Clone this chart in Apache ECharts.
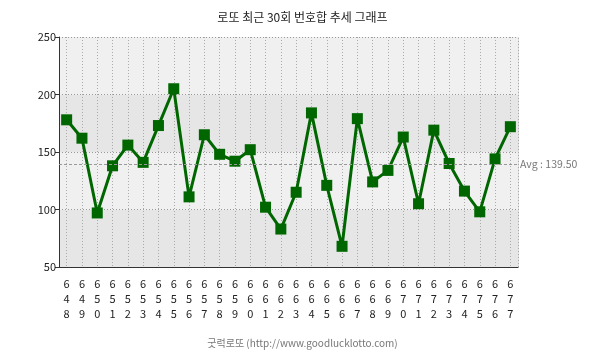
<!DOCTYPE html>
<html><head><meta charset="utf-8">
<script src="https://cdn.jsdelivr.net/npm/echarts@6/dist/echarts.min.js"></script>
<style>html,body{margin:0;padding:0;background:#fff}#c{width:605px;height:359px}</style>
</head><body><div id="c"></div>
<script>
const titleText = '로또 최근 30회 번호합 추세 그래프';
const footerText = '굿럭로또 (http://www.goodlucklotto.com)';
const rounds = ['648','649','650','651','652','653','654','655','656','657','658','659','660','661','662','663','664','665','666','667','668','669','670','671','672','673','674','675','676','677'];
const sums = [178,162,97,138,156,141,173,205,111,165,148,142,152,102,83,115,184,121,68,179,124,134,163,105,169,140,116,98,144,172];
const yTicks = [50,100,150,200,250];

const font = '"Noto Sans CJK KR", "DejaVu Sans", sans-serif';
const chart = echarts.init(document.getElementById('c'));
chart.setOption({
  animation: false,
  backgroundColor: '#fff',
  title: [
    {text: titleText, left: 'center', top: 6, textStyle: {fontFamily: font, fontSize: 12, fontWeight: 'normal', color: '#222'}},
    {text: footerText, left: 'center', top: 333, textStyle: {fontFamily: font, fontSize: 10, fontWeight: 'normal', color: '#777'}}
  ],
  grid: {left: 59, right: 87, top: 37, bottom: 92},
  xAxis: {
    type: 'category', data: rounds, boundaryGap: true,
    axisLine: {lineStyle: {color: '#333', width: 1}},
    axisTick: {alignWithLabel: true, length: 5, lineStyle: {color: '#333'}},
    axisLabel: {interval: 0, margin: 9, fontFamily: font, fontSize: 11, lineHeight: 15, color: '#222',
      formatter: v => v.split('').join('\n')},
    splitLine: {show: true, alignWithLabel: true, lineStyle: {color: '#aaa', type: [1, 2], width: 1}}
  },
  yAxis: [{
    type: 'value', min: yTicks[0], max: yTicks[yTicks.length-1], interval: 50,
    axisLine: {show: true, lineStyle: {color: '#333'}},
    axisTick: {show: true, length: 4, lineStyle: {color: '#333'}},
    axisLabel: {margin: 3, fontFamily: font, fontSize: 11, color: '#222'},
    splitLine: {show: true, lineStyle: {color: '#999', type: [1, 2]}},
    splitArea: {show: true, areaStyle: {color: ['#e6e6e6', '#f0f0f0']}}
  }, {
    type: 'value', min: yTicks[0], max: yTicks[yTicks.length-1], interval: 50, position: 'right',
    axisLine: {show: true, lineStyle: {color: '#aaa', type: [1, 2]}},
    axisTick: {show: false}, axisLabel: {show: false}, splitLine: {show: false}
  }],
  series: [{
    type: 'line', data: sums,
    symbol: 'rect', symbolSize: 11,
    lineStyle: {color: '#006600', width: 3},
    itemStyle: {color: '#006600'},
    markLine: {
      silent: true, symbol: 'none',
      lineStyle: {color: '#999', type: [3, 2], width: 1},
      label: {position: 'end', distance: 2, fontFamily: font, fontSize: 10.5, color: '#777',
        formatter: p => 'Avg : ' + Number(p.value).toFixed(2)},
      data: [{type: 'average'}]
    }
  }]
});
</script></body></html>
